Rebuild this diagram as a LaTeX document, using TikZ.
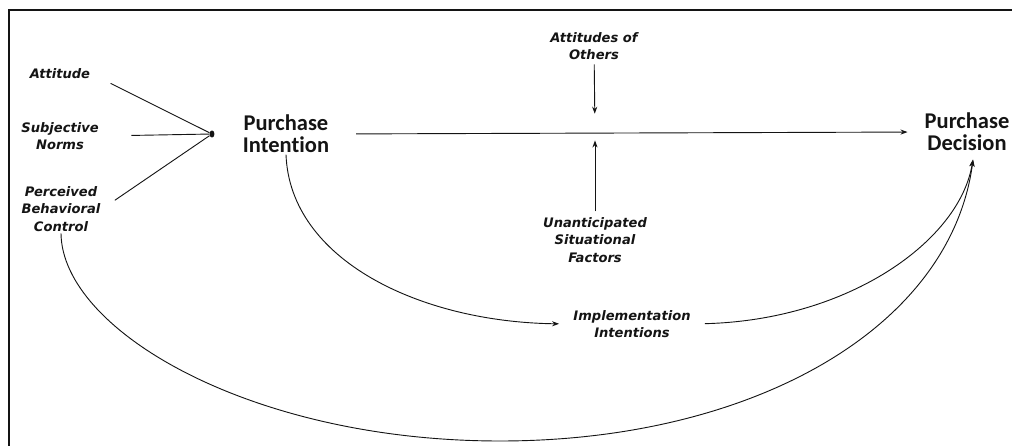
\documentclass[tikz,border=0pt]{standalone}
\usepackage{fontspec}
\setmainfont{DejaVu Sans}
\newfontfamily\headfont[Ligatures=NoCommon]{Carlito}
\usepackage{xcolor}
\usepackage{tikz}
\usetikzlibrary{shapes.geometric, arrows.meta, positioning, calc}
\definecolor{mydark}{RGB}{20,20,20}
\tikzset{
  factor/.style={align=center, text=mydark, inner sep=1pt,
    font=\fontsize{9.3}{12.5}\selectfont\bfseries\itshape},
  stage/.style={align=center, text=mydark, inner sep=1pt,
    font=\headfont\fontsize{16}{15.6}\selectfont\bfseries},
  junction/.style={ellipse, fill=mydark, inner sep=0pt,
    minimum width=3.5pt, minimum height=5pt},
  arrow/.style={-{Stealth[length=5pt, width=3.6pt]}, line width=0.65pt, color=mydark},
  line/.style={line width=0.65pt, color=mydark},
  frame/.style={line width=1.4pt, color=mydark}
}

\begin{document}
\begin{tikzpicture}[x=0.025cm, y=-0.025cm]
  \useasboundingbox (0,0) rectangle (1012,446);
  \draw[frame] (9,448) -- (9,10) -- (1014,10);

  % Antecedents
  \node[factor] (att) at (60,74) {Attitude};
  \node[factor] (sn) at (60,136) {Subjective\\Norms};
  \node[factor] (pbc) at (61,209) {Perceived\\Behavioral\\Control};
  \node[junction] (junc) at (212,134) {};

  % Stages
  \node[stage] (pi) at (286,134) {Purchase\\Intention};
  \node[stage] (pd) at (967,132) {Purchase\\Decision};
  \coordinate (mod) at (595,132);

  % Moderators
  \node[factor] (ao) at (594,46) {Attitudes of\\Others};
  \node[factor] (us) at (595,240) {Unanticipated\\Situational\\Factors};
  \node[factor] (impl) at (632,324) {Implementation\\Intentions};

  % Paths
  \draw[line, shorten <=15pt] (att.east) -- (junc);
  \draw[line, shorten <=22pt] (sn.east) -- (junc);
  \draw[line, shorten <=11pt] (pbc.east) -- (junc);
  \draw[arrow, shorten <=18pt, shorten >=11pt] (pi.east) -- (pd.west);
  \draw[arrow, shorten <=2pt, shorten >=13pt] (ao) -- (mod);
  \draw[arrow, shorten <=3pt, shorten >=6pt] (us) -- (mod);
  \draw[arrow, shorten >=9pt] (pi.south) .. controls (290,260) and (420,322) .. (impl.west);
  \draw[arrow, shorten <=9pt, shorten >=5pt] (impl.east) .. controls (850,320) and (960,240) .. ([xshift=5pt]pd.south);
  \draw[arrow, shorten >=5pt] (pbc.south) .. controls (62,330) and (250,441) .. (500,441)
    .. controls (750,441) and (950,330) .. ([xshift=5pt]pd.south);
\end{tikzpicture}
\end{document}
